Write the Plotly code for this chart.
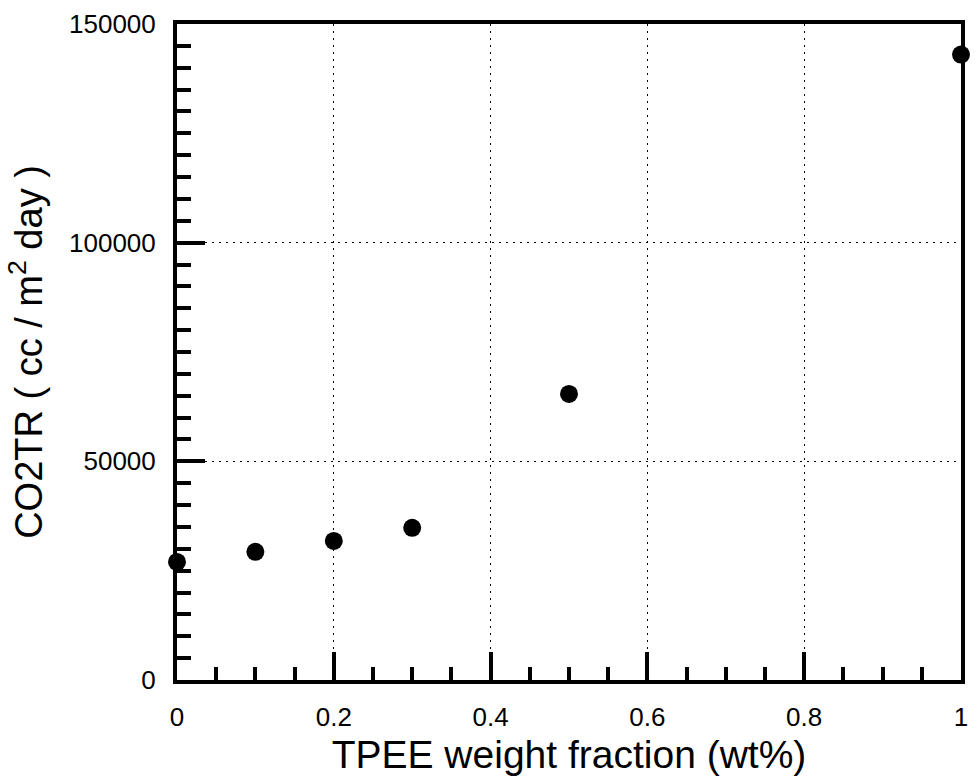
import plotly.graph_objects as go

tpee_fraction = [0.0, 0.1, 0.2, 0.3, 0.5, 1.0]
co2tr = [27000, 29300, 31800, 34800, 65400, 143000]

x_tick_vals = [0, 0.2, 0.4, 0.6, 0.8, 1]
x_tick_text = ["0", "0.2", "0.4", "0.6", "0.8", "1"]
y_tick_vals = [0, 50000, 100000, 150000]
y_tick_text = ["0", "50000", "100000", "150000"]

font_family = "Liberation Sans, Arial, sans-serif"

fig = go.Figure()
fig.add_trace(go.Scatter(
    x=tpee_fraction, y=co2tr, mode="markers",
    marker=dict(size=18, color="black", line=dict(width=0)),
    cliponaxis=False, showlegend=False,
))

axis_common = dict(
    showline=True, linewidth=4, linecolor="black", mirror=True,
    ticks="inside", ticklen=28, tickwidth=4, tickcolor="black",
    showgrid=True, gridcolor="black", gridwidth=1, griddash="2px,5px",
    zeroline=False, layer="below traces",
)

fig.update_layout(
    width=976, height=782,
    margin=dict(l=177, r=8, t=24, b=102),
    paper_bgcolor="white", plot_bgcolor="white",
    font=dict(family=font_family, color="black"),
    xaxis=dict(
        range=[0, 1], tickvals=x_tick_vals, ticktext=x_tick_text,
        tickfont=dict(size=26), ticklabelstandoff=11,
        title=dict(text="TPEE weight fraction (wt%)", font=dict(size=39), standoff=10),
        minor=dict(dtick=0.05, ticks="inside", ticklen=13, tickwidth=4, tickcolor="black", showgrid=False),
        **axis_common,
    ),
    yaxis=dict(
        range=[0, 150000], tickvals=y_tick_vals, ticktext=y_tick_text,
        tickfont=dict(size=26), ticklabelstandoff=12,
        title=dict(text="CO2TR ( cc / m<sup>2</sup> day )", font=dict(size=38), standoff=16),
        minor=dict(dtick=5000, ticks="inside", ticklen=14, tickwidth=4, tickcolor="black", showgrid=False),
        **axis_common,
    ),
)

fig.write_html("out.html")
